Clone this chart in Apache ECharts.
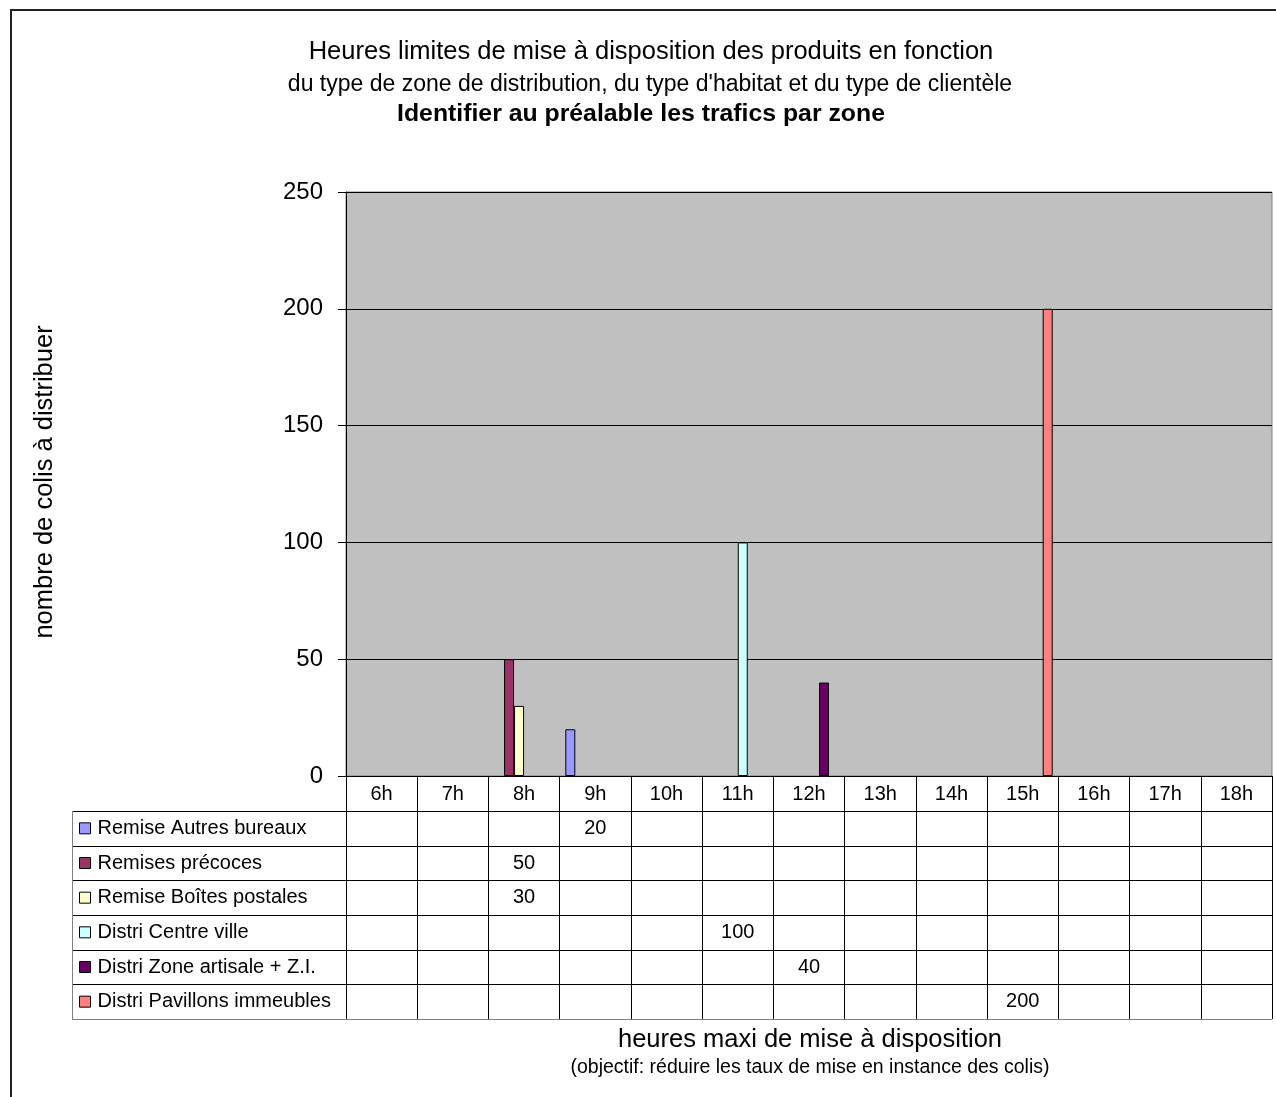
<!DOCTYPE html>
<html>
<head>
<meta charset="utf-8">
<script src="https://cdn.jsdelivr.net/npm/echarts@6/dist/echarts.min.js"></script>
<style>
html,body{margin:0;padding:0;background:#fff;}
#main{width:1276px;height:1097px;}
</style>
</head>
<body>
<div id="main"></div>
<script>
const categories = ['6h','7h','8h','9h','10h','11h','12h','13h','14h','15h','16h','17h','18h'];
const seriesNames = ['Remise Autres bureaux','Remises précoces','Remise Boîtes postales','Distri Centre ville','Distri Zone artisale + Z.I.','Distri Pavillons immeubles'];
const autresBureaux   = [null,null,null,20,null,null,null,null,null,null,null,null,null];
const remisesPrecoces = [null,null,50,null,null,null,null,null,null,null,null,null,null];
const boitesPostales  = [null,null,30,null,null,null,null,null,null,null,null,null,null];
const centreVille     = [null,null,null,null,null,100,null,null,null,null,null,null,null];
const zoneArtisale    = [null,null,null,null,null,null,40,null,null,null,null,null,null];
const pavillons       = [null,null,null,null,null,null,null,null,null,200,null,null,null];
const yTicks = [0,50,100,150,200,250];
const seriesColors = ['#9999FF','#993366','#FFFFCC','#CCFFFF','#660066','#FF8080'];

const allData = [autresBureaux, remisesPrecoces, boitesPostales, centreVille, zoneArtisale, pavillons];
const FONT = '"Liberation Sans", Arial, sans-serif';

const gridLeft = 346, gridTop = 192, gridRight = 1272, gridBottom = 776;
const tableLeft = 72, headerBottom = 811, tableBottom = 1019;
const rowH = (tableBottom - headerBottom) / 6;

const chart = echarts.init(document.getElementById('main'), null, {renderer:'canvas'});

const legends = seriesNames.map((n, i) => ({
  data: [n],
  orient: 'horizontal',
  left: 79,
  top: headerBottom + rowH * i + rowH / 2 - 11,
  padding: 0,
  itemWidth: 11,
  itemHeight: 11,
  itemGap: 0,
  selectedMode: false,
  icon: 'rect',
  itemStyle: {borderColor: '#000', borderWidth: 1},
  textStyle: {fontFamily: FONT, fontSize: 20, color: '#000', lineHeight: 22, padding: [0,0,0,2]}
}));

const option = {
  backgroundColor: '#fff',
  animation: false,
  textStyle: {fontFamily: FONT},
  legend: legends,
  grid: {
    left: gridLeft, top: gridTop, width: gridRight - gridLeft, height: gridBottom - gridTop,
    show: true, backgroundColor: '#C0C0C0', borderColor: '#808080', borderWidth: 1,
    containLabel: false
  },
  xAxis: {
    type: 'category',
    data: categories,
    boundaryGap: true,
    axisLine: {show: true, lineStyle: {color: '#000', width: 1}},
    axisTick: {show: true, interval: 0, length: tableBottom - gridBottom, lineStyle: {color: '#000', width: 1}},
    axisLabel: {interval: 0, margin: 8, fontFamily: FONT, fontSize: 20, color: '#000'},
    splitLine: {show: false}
  },
  yAxis: {
    type: 'value',
    min: yTicks[0], max: yTicks[yTicks.length - 1], interval: 50,
    axisLine: {show: true, lineStyle: {color: '#000', width: 1}},
    axisTick: {show: true, length: 8, lineStyle: {color: '#000'}},
    axisLabel: {margin: 23, fontFamily: FONT, fontSize: 24, color: '#000'},
    splitLine: {show: true, lineStyle: {color: '#000', width: 1}}
  },
  series: seriesNames.map((n, i) => ({
    name: n,
    type: 'bar',
    data: allData[i],
    barWidth: 10,
    barGap: '0%',
    itemStyle: {color: seriesColors[i], borderColor: '#000', borderWidth: 1},
    emphasis: {disabled: true}
  }))
};
chart.setOption(option);

// Graphic overlay: frame, titles, table lines, table values
const g = [];
g.push({type:'rect', shape:{x:11, y:10, width:1320, height:1200}, style:{fill:'none', stroke:'#222', lineWidth:2}, silent:true, z:-1});

g.push({type:'text', x:651, y:52, style:{text:'Heures limites de mise à disposition des produits en fonction', font:'25.5px '+FONT, fill:'#000', textAlign:'center', textVerticalAlign:'middle'}});
g.push({type:'text', x:650, y:85, style:{text:"du type de zone de distribution, du type d'habitat et du type de clientèle", font:'23px '+FONT, fill:'#000', textAlign:'center', textVerticalAlign:'middle'}});
g.push({type:'text', x:641, y:114, style:{text:'Identifier au préalable les trafics par zone', font:'bold 24.8px '+FONT, fill:'#000', textAlign:'center', textVerticalAlign:'middle'}});

g.push({type:'text', x:45, y:482, rotation:Math.PI/2, style:{text:'nombre de colis à distribuer', font:'25.5px '+FONT, fill:'#000', textAlign:'center', textVerticalAlign:'middle'}});

g.push({type:'text', x:810, y:1040, style:{text:'heures maxi de mise à disposition', font:'25.5px '+FONT, fill:'#000', textAlign:'center', textVerticalAlign:'middle'}});
g.push({type:'text', x:810, y:1068, style:{text:'(objectif: réduire les taux de mise en instance des colis)', font:'19.5px '+FONT, fill:'#000', textAlign:'center', textVerticalAlign:'middle'}});

// table horizontal lines
for (let i = 0; i <= 6; i++) {
  const y = Math.round(headerBottom + rowH * i) + 0.5;
  g.push({type:'line', shape:{x1:tableLeft, y1:y, x2:gridRight, y2:y}, style:{stroke: i === 6 ? '#808080' : '#000', lineWidth:1}, silent:true});
}
g.push({type:'line', shape:{x1:tableLeft+0.5, y1:headerBottom, x2:tableLeft+0.5, y2:tableBottom}, style:{stroke:'#808080', lineWidth:1}, silent:true});

// table values from data via axis scale
allData.forEach((arr, si) => {
  arr.forEach((v, ci) => {
    if (v === null || v === undefined) return;
    const px = chart.convertToPixel({xAxisIndex:0}, categories[ci]);
    g.push({type:'text', x:px, y:headerBottom + rowH * si + rowH / 2, style:{text:String(v), font:'20px '+FONT, fill:'#000', textAlign:'center', textVerticalAlign:'middle'}});
  });
});

chart.setOption({graphic: {elements: g}});
</script>
</body>
</html>
